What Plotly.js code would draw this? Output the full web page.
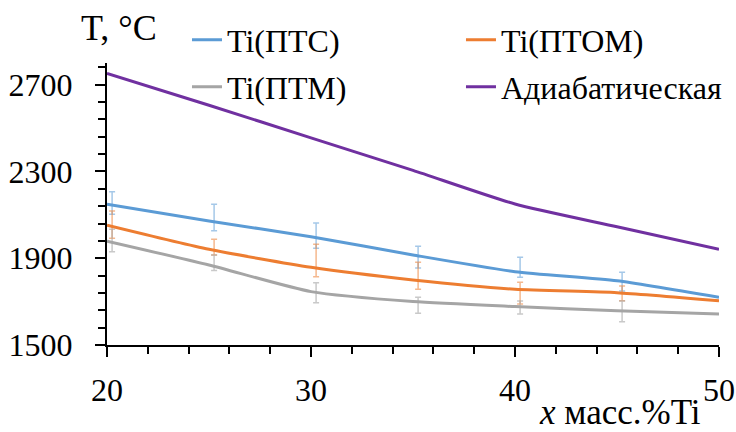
<!DOCTYPE html>
<html>
<head>
<meta charset="utf-8">
<script src="https://cdn.plot.ly/plotly-3.0.1.min.js"></script>
<style>
html,body{margin:0;padding:0;background:#fff;}
#chart{width:736px;height:432px;}
#chart text, #chart tspan{font-family:'Liberation Serif' !important;}
</style>
</head>
<body>
<div id="chart"></div>
<script>
// Data
const xPts = [20, 25, 30, 35, 40, 45, 50];
const errX = [20.25, 25.25, 30.25, 35.25, 40.25, 45.25, 50.25];

const ptsLine  = [2149, 2072, 1999, 1915, 1838, 1796, 1720];
const ptsErrY  = [2155, 2088, 2004, 1905, 1858, 1792, 1729];
const ptsErr   = [52, 61, 58, 50, 46, 43, 40];

const ptomLine = [2052, 1941, 1858, 1800, 1757, 1741, 1704];
const ptomErrY = [2055, 1951, 1890, 1819, 1739, 1738, 1709];
const ptomErr  = [63, 36, 75, 62, 50, 34, 32];

const ptmLine  = [1979, 1869, 1746, 1700, 1677, 1658, 1643];
const ptmErrY  = [1982, 1879, 1741, 1683, 1673, 1655, 1653];
const ptmErr   = [52, 36, 46, 37, 30, 48, 42];

const adiaX    = [20, 25, 30, 35, 40, 45, 50];
const adiaY    = [2752, 2605, 2455, 2305, 2150, 2045, 1941];

const names = ['Ti(ПТС)', 'Ti(ПТОМ)', 'Ti(ПТМ)', 'Адиабатическая'];
const xTickVals = [20, 30, 40, 50];
const yTickVals = [1500, 1900, 2300, 2700];

const FONT = 'Liberation Serif';
const C_BLUE = '#5B9BD5', C_ORANGE = '#ED7D31', C_GRAY = '#A5A5A5', C_PURPLE = '#7030A0';

function lineTrace(x, y, name, color, legend) {
  return {x: x, y: y, name: name, type: 'scatter', mode: 'lines',
    line: {color: color, width: 3, shape: 'spline', smoothing: 0.6},
    legend: legend, hoverinfo: 'skip'};
}
function errTrace(y, err, color) {
  return {x: errX, y: y, type: 'scatter', mode: 'markers', showlegend: false,
    marker: {size: 1, color: 'rgba(0,0,0,0)'}, cliponaxis: false, hoverinfo: 'skip',
    error_y: {type: 'data', array: err, visible: true, color: color, thickness: 1.5, width: 3}};
}

const data = [
  errTrace(ptsErrY, ptsErr, 'rgba(91,155,213,0.55)'),
  errTrace(ptomErrY, ptomErr, 'rgba(237,125,49,0.55)'),
  errTrace(ptmErrY, ptmErr, 'rgba(165,165,165,0.6)'),
  lineTrace(xPts, ptsLine, names[0], C_BLUE, 'legend'),
  lineTrace(xPts, ptomLine, names[1], C_ORANGE, 'legend2'),
  lineTrace(xPts, ptmLine, names[2], C_GRAY, 'legend3'),
  lineTrace(adiaX, adiaY, names[3], C_PURPLE, 'legend4')
];

function legendCfg(x, y) {
  return {orientation: 'v', xanchor: 'left', yanchor: 'middle', x: x, y: y,
    font: {family: FONT, size: 32, color: '#000'}, bgcolor: 'rgba(0,0,0,0)',
    itemwidth: 30, borderwidth: 0};
}

const colL = 0.1307, colR = 0.5784, rowT = 1.0816, rowB = 0.915;

const layout = {
  width: 736, height: 432,
  margin: {l: 107, r: 17, t: 63, b: 87, pad: 0, autoexpand: false},
  paper_bgcolor: '#fff', plot_bgcolor: '#fff',
  font: {family: FONT, size: 32, color: '#000'},
  showlegend: true,
  legend:  legendCfg(colL, rowT),
  legend2: legendCfg(colR, rowT),
  legend3: legendCfg(colL, rowB),
  legend4: legendCfg(colR, rowB),
  xaxis: {
    range: [20, 50], tickvals: xTickVals, ticktext: xTickVals.map(String),
    showgrid: false, zeroline: false, showline: true, linecolor: '#000', linewidth: 2,
    ticks: 'outside', ticklen: 10, tickwidth: 2, tickcolor: '#000',
    minor: {dtick: 2, tick0: 20, ticks: 'outside', ticklen: 7, tickwidth: 2, tickcolor: '#000', showgrid: false},
    tickfont: {family: FONT, size: 32, color: '#000'}, ticklabelstandoff: 6
  },
  yaxis: {
    range: [1500, 2800], tickvals: yTickVals, ticktext: yTickVals.map(String),
    showgrid: false, zeroline: false, showline: true, linecolor: '#000', linewidth: 2,
    ticks: 'outside', ticklen: 10, tickwidth: 2, tickcolor: '#000',
    minor: {dtick: 80, tick0: 1500, ticks: 'outside', ticklen: 7, tickwidth: 2, tickcolor: '#000', showgrid: false},
    tickfont: {family: FONT, size: 32, color: '#000'}, ticklabelstandoff: 16
  },
  annotations: [
    {text: 'T, °C', xref: 'paper', yref: 'paper', x: 0.0204, y: 1.125, xanchor: 'center', yanchor: 'middle',
     showarrow: false, font: {family: FONT, size: 36, color: '#000'}},
    {text: '<i>x</i> масс.%Ti', xref: 'paper', yref: 'paper', x: 0.838, y: -0.24, xanchor: 'center', yanchor: 'middle',
     showarrow: false, font: {family: FONT, size: 35, color: '#000'}}
  ]
};

Plotly.newPlot('chart', data, layout, {displayModeBar: false, staticPlot: true});
</script>
</body>
</html>
